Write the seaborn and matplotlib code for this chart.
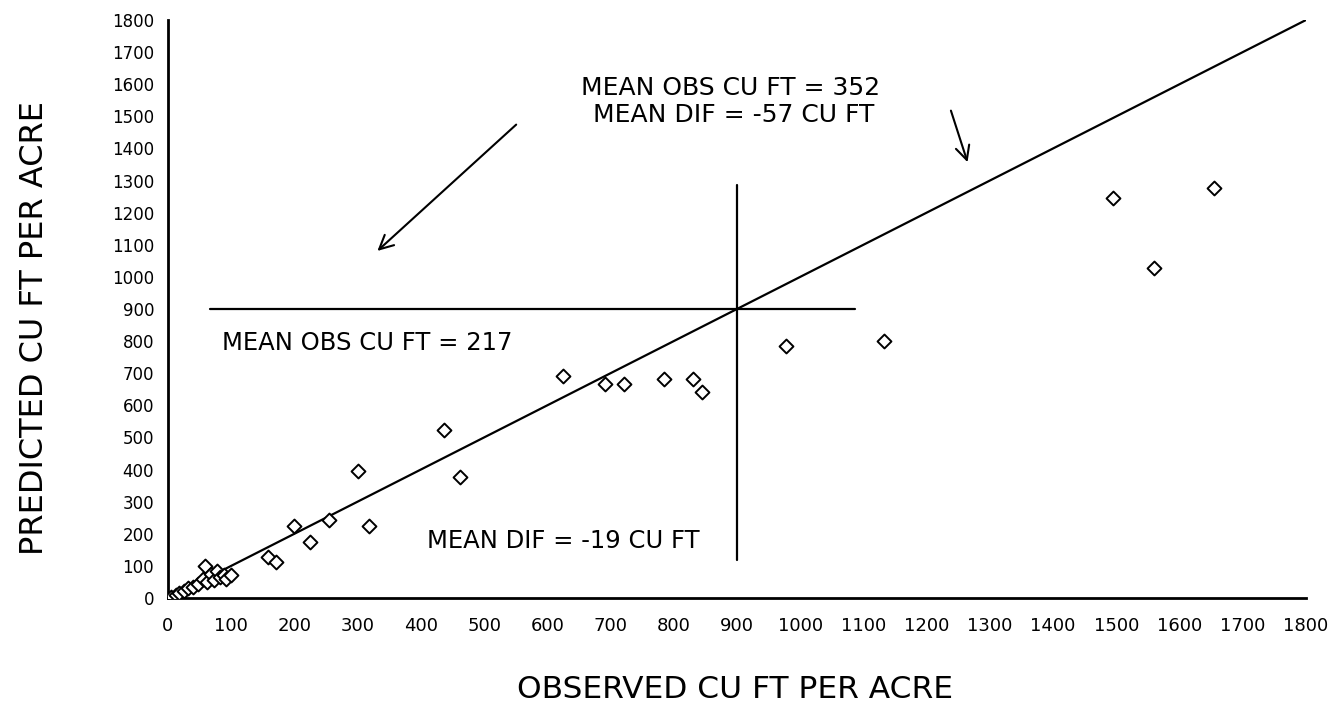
import numpy as np
import pandas as pd
import seaborn as sns
import matplotlib.pyplot as plt

# =========================
# DATA
# =========================
observed = [5, 12, 18, 25, 32, 40, 48, 55, 58, 62, 68, 72, 78, 82, 88, 92, 100,
            158, 171, 200, 225, 255, 300, 318, 437, 462,
            625, 692, 722, 785, 831, 845, 978, 1132, 1495, 1560, 1655]
predicted = [4, 10, 15, 22, 30, 35, 45, 60, 100, 50, 75, 55, 85, 65, 70, 60, 72,
             128, 112, 225, 175, 243, 395, 225, 523, 378,
             690, 665, 665, 683, 683, 640, 785, 800, 1245, 1028, 1277]

ticks = list(range(0, 1900, 100))
diag = [0, 1800]

# mean cross lines
mean_h_x = [66, 1087]
mean_h_y = [900, 900]
mean_v_x = [900, 900]
mean_v_y = [118, 1285]

df = pd.DataFrame({'obs': observed, 'pred': predicted})

# =========================
# PLOT
# =========================
sns.set_style('white')
plt.rcParams['font.family'] = ['DejaVu Sans']
plt.rcParams['text.color'] = 'black'
plt.rcParams['xtick.color'] = 'black'
plt.rcParams['ytick.color'] = 'black'

fig = plt.figure(figsize=(13.29, 7.09), dpi=100)
ax = fig.add_axes([0.1264, 0.1566, 0.8563, 0.8152])

line_kw = dict(ax=ax, color='black', linewidth=1.6, estimator=None, sort=False)
sns.lineplot(x=diag, y=diag, **line_kw)
sns.lineplot(x=mean_h_x, y=mean_h_y, **line_kw)
sns.lineplot(x=mean_v_x, y=mean_v_y, **line_kw)

sns.scatterplot(data=df, x='obs', y='pred', ax=ax, marker='D', s=50,
                facecolor='white', edgecolor='black', linewidth=1.4, zorder=3)

ax.set_xlim(0, 1800)
ax.set_ylim(0, 1800)
ax.set_xticks(ticks)
ax.set_yticks(ticks)
ax.set_xticklabels([str(t) for t in ticks], fontsize=13)
ax.set_yticklabels([str(t) for t in ticks], fontsize=12)
ax.tick_params(direction='in', length=9, width=1.5)
ax.tick_params(axis='x', pad=14)
ax.tick_params(axis='y', pad=10)
ax.set_xlabel('')
ax.set_ylabel('')
for side in ['top', 'right']:
    ax.spines[side].set_visible(False)
for side in ['left', 'bottom']:
    ax.spines[side].set_linewidth(2)
    ax.spines[side].set_color('black')

# annotations
ax.text(890, 1589, 'MEAN OBS CU FT = 352', ha='center', va='center', fontsize=18)
ax.text(895, 1505, 'MEAN DIF = -57 CU FT', ha='center', va='center', fontsize=18)
ax.text(86, 794, 'MEAN OBS CU FT = 217', ha='left', va='center', fontsize=17.5)
ax.text(410, 178, 'MEAN DIF = -19 CU FT', ha='left', va='center', fontsize=17.5)

ax.annotate('', xy=(328, 1075), xytext=(554, 1480),
            arrowprops=dict(arrowstyle='->', color='black', lw=1.5,
                            mutation_scale=25))
ax.annotate('', xy=(1266, 1349), xytext=(1237, 1526),
            arrowprops=dict(arrowstyle='->', color='black', lw=1.5,
                            mutation_scale=25))

fig.text(35 / 1329, 1 - 328 / 709, 'PREDICTED CU FT PER ACRE', rotation=90,
         ha='center', va='center', fontsize=23)
fig.text(735 / 1329, 1 - 690 / 709, 'OBSERVED CU FT PER ACRE',
         ha='center', va='center', fontsize=22.5)

plt.savefig('out.png', dpi=100)
